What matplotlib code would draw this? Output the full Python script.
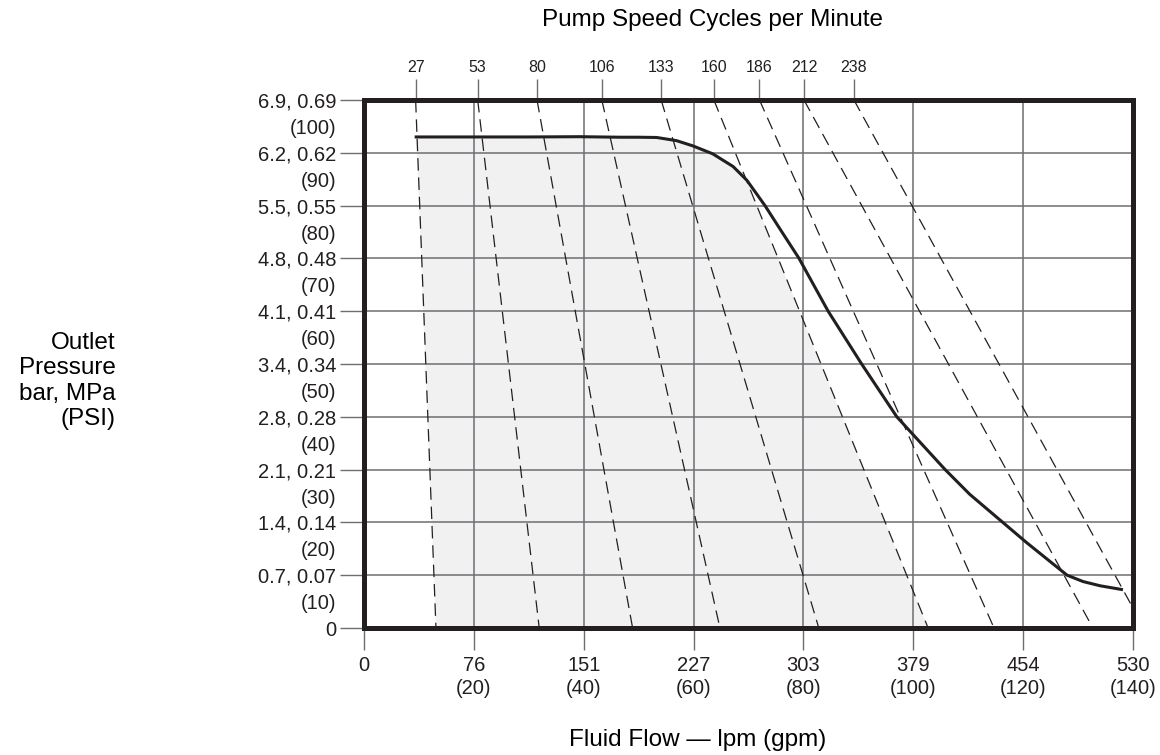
import numpy as np
import matplotlib.pyplot as plt

plt.rcParams['font.family'] = ['Liberation Sans', 'DejaVu Sans']

ink = '#231f20'
grid_col = '#6d6e71'

# bottom axis: flow in gpm, labels lpm (gpm)
flow_gpm = [0, 20, 40, 60, 80, 100, 120, 140]
flow_lpm = ['0', '76', '151', '227', '303', '379', '454', '530']

# left axis: pressure in psi, labels bar, MPa and (psi)
psi_ticks = [0, 10, 20, 30, 40, 50, 60, 70, 80, 90, 100]
bar_mpa = ['0', '0.7, 0.07', '1.4, 0.14', '2.1, 0.21', '2.8, 0.28', '3.4, 0.34',
           '4.1, 0.41', '4.8, 0.48', '5.5, 0.55', '6.2, 0.62', '6.9, 0.69']
psi_mid = [5, 15, 25, 35, 45, 55, 65, 75, 85, 95]
psi_mid_labels = ['(10)', '(20)', '(30)', '(40)', '(50)', '(60)', '(70)', '(80)', '(90)', '(100)']

# pump speed lines (cycles per minute), gpm at 100 psi (top) and at 0 psi (bottom)
cpm = [27, 53, 80, 106, 133, 160, 186, 212, 238]
cpm_top_gpm = [9.4, 20.7, 31.5, 43.3, 54.1, 63.7, 72.0, 80.1, 89.2]
cpm_bot_gpm = [13.1, 31.9, 48.9, 64.8, 82.8, 102.7, 114.7, 132.7, 142.0]

# performance curve
curve_gpm = [9.5, 20, 30, 39.3, 46.6, 50.0, 53.3, 56.9, 59.9, 63.5, 67.2, 69.7, 73.0,
             75.9, 79.2, 84.5, 90.6, 97.0, 99.9, 105.8, 110.3, 116.3, 120.6, 128.0,
             130.9, 134.0, 137.9]
curve_psi = [93.0, 93.0, 93.0, 93.05, 92.95, 92.95, 92.9, 92.3, 91.3, 89.8, 87.4, 84.8, 80.0,
             75.3, 70.0, 60.0, 50.0, 40.0, 36.7, 30.0, 25.3, 20.0, 16.2, 10.0,
             8.8, 8.0, 7.3]

fig = plt.figure(figsize=(11.6, 7.55), dpi=100)
ax = fig.add_axes([364 / 1160, 127 / 755, 769 / 1160, 528 / 755])
ax.set_xlim(0, 140)
ax.set_ylim(0, 100)

# shaded operating area: between 27 and 160 cpm lines, under the curve
gx = np.array(curve_gpm)
gp = np.array(curve_psi)
t160, b160 = cpm_top_gpm[5], cpm_bot_gpm[5]
d = gx - (t160 + (b160 - t160) * (100 - gp) / 100)
k = int(np.argmax(d > 0))
t = -d[k - 1] / (d[k] - d[k - 1])
ix = gx[k - 1] + t * (gx[k] - gx[k - 1])
ip = gp[k - 1] + t * (gp[k] - gp[k - 1])
poly_x = list(gx[:k]) + [ix, b160, cpm_bot_gpm[0]]
poly_y = list(gp[:k]) + [ip, 0, 0]
ax.fill(poly_x, poly_y, color='#f1f1f2', lw=0, zorder=0.3)

# speed lines
for top, bot in zip(cpm_top_gpm, cpm_bot_gpm):
    ax.plot([top, bot], [100, 0], color=ink, lw=0.9, dashes=(10, 5.5), zorder=2)

ax.plot(curve_gpm, curve_psi, color=ink, lw=2.2, zorder=3, solid_joinstyle='round')

ax.set_axisbelow(True)
ax.grid(True, which='major', color=grid_col, lw=1.1)

for s in ax.spines.values():
    s.set_linewidth(3.6)
    s.set_color(ink)

ax.set_xticks(flow_gpm, [f'{l}' if g == 0 else f'{l}\n({g})' for l, g in zip(flow_lpm, flow_gpm)])
ax.set_yticks(psi_ticks, bar_mpa)
ax.set_yticks(psi_mid, psi_mid_labels, minor=True)
ax.tick_params(axis='x', which='major', length=16, width=1, color=grid_col, pad=4,
               labelsize=14.5, labelcolor=ink)
ax.tick_params(axis='y', which='major', length=17, width=1, color=grid_col, pad=3,
               labelsize=14.5, labelcolor=ink)
ax.tick_params(axis='y', which='minor', length=0, pad=20, labelsize=14.5, labelcolor=ink)
for lbl in ax.get_xticklabels():
    lbl.set_linespacing(1.3)

top = ax.secondary_xaxis('top')
top.set_xticks(cpm_top_gpm, [str(c) for c in cpm])
top.tick_params(length=15, width=1, color=grid_col, pad=3, labelsize=11.5, labelcolor=ink)
top.spines['top'].set_visible(False)

fig.text(712 / 1160, 1 - 20 / 755, 'Pump Speed Cycles per Minute', ha='center', va='center',
         fontsize=17.5, color='black')
fig.text(698 / 1160, 1 - 740 / 755, 'Fluid Flow \u2014 lpm (gpm)', ha='center', va='center',
         fontsize=17.5, color='black')
fig.text(116 / 1160, 1 - 381 / 755, 'Outlet\nPressure\nbar, MPa\n(PSI)', ha='right', va='center',
         multialignment='right', fontsize=17.5, linespacing=1.2, color='black')

fig.savefig('out.png', dpi=100)
